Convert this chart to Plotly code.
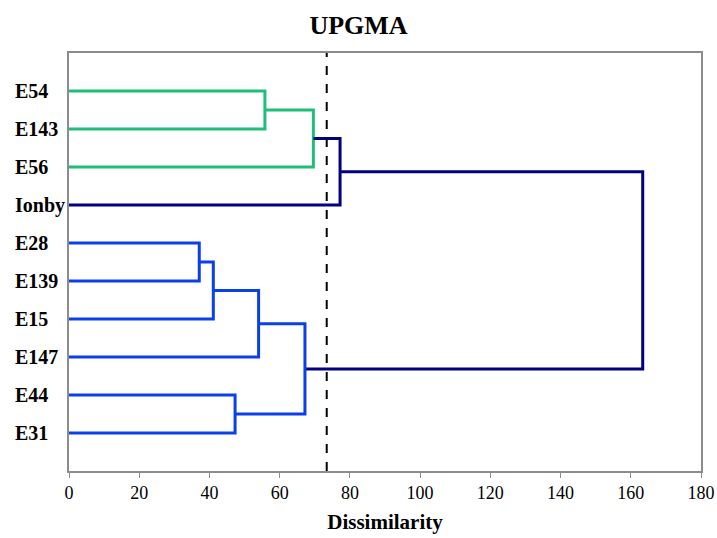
import plotly.graph_objects as go

# ---- data ----
leaf_labels = ["E54", "E143", "E56", "Ionby", "E28", "E139", "E15", "E147", "E44", "E31"]
# merges: node ids 0-9 are leaves, 10+ are merges in order
merge_left = [0, 10, 11, 4, 13, 14, 8, 15, 12]
merge_right = [1, 2, 3, 5, 6, 7, 9, 16, 17]
merge_height = [55.8, 69.6, 77.2, 37.1, 41.1, 54.0, 47.3, 67.2, 163.4]
merge_group = ["green", "green", "navy", "blue", "blue", "blue", "blue", "blue", "navy"]
cut_height = 73.4
x_ticks = [0, 20, 40, 60, 80, 100, 120, 140, 160, 180]

group_colors = {"green": "#1DBF7B", "navy": "#000080", "blue": "#0A40EC"}
SERIF = "Liberation Serif, Times New Roman, serif"

# ---- positions ----
n = len(leaf_labels)
node_y = {i: i + 1 for i in range(n)}
node_x = {i: 0.0 for i in range(n)}
segs = {k: ([], []) for k in group_colors}
for j, (a, b, h, g) in enumerate(zip(merge_left, merge_right, merge_height, merge_group)):
    nid = n + j
    xs, ys = segs[g]
    xs += [node_x[a], h, h, node_x[b], None]
    ys += [node_y[a], node_y[a], node_y[b], node_y[b], None]
    node_x[nid] = h
    node_y[nid] = (node_y[a] + node_y[b]) / 2

fig = go.Figure()
for g, (xs, ys) in segs.items():
    fig.add_trace(go.Scatter(x=xs, y=ys, mode="lines",
                             line=dict(color=group_colors[g], width=3),
                             hoverinfo="skip", showlegend=False))

fig.add_shape(type="line", x0=cut_height, x1=cut_height, y0=0, y1=1,
              xref="x", yref="paper", line=dict(color="black", width=2, dash="dash"))

for i, lab in enumerate(leaf_labels):
    fig.add_annotation(text="<b>%s</b>" % lab, x=-56 / 632, xref="paper", xanchor="left",
                       y=i + 1, yref="y", yanchor="middle", showarrow=False,
                       font=dict(family=SERIF, size=20, color="black"))

fig.update_layout(
    width=717, height=538,
    margin=dict(l=69, r=16, t=53, b=67),
    paper_bgcolor="white", plot_bgcolor="white",
    title=dict(text="<b>UPGMA</b>", x=0.5, xanchor="center", y=1 - 25 / 538, yanchor="middle",
               yref="container", font=dict(family=SERIF, size=26, color="black")),
    font=dict(family=SERIF, color="black"),
)
fig.update_xaxes(range=[0, 180], tickvals=x_ticks, ticks="outside", ticklen=5,
                 tickcolor="#8c8c8c", showline=True, linecolor="#8c8c8c", linewidth=1.5,
                 mirror=True, showgrid=False, zeroline=False, automargin=False,
                 tickfont=dict(family=SERIF, size=18, color="black"),
                 title=dict(text="<b>Dissimilarity</b>", standoff=12,
                            font=dict(family=SERIF, size=21, color="black")))
fig.update_yaxes(range=[n + 1, 0], showticklabels=False, ticks="", showline=True,
                 linecolor="#8c8c8c", linewidth=1.5, mirror=True, showgrid=False,
                 zeroline=False, automargin=False)

fig.write_html("out.html", config={"displayModeBar": False},
               post_script="document.body.style.margin='0px';")
